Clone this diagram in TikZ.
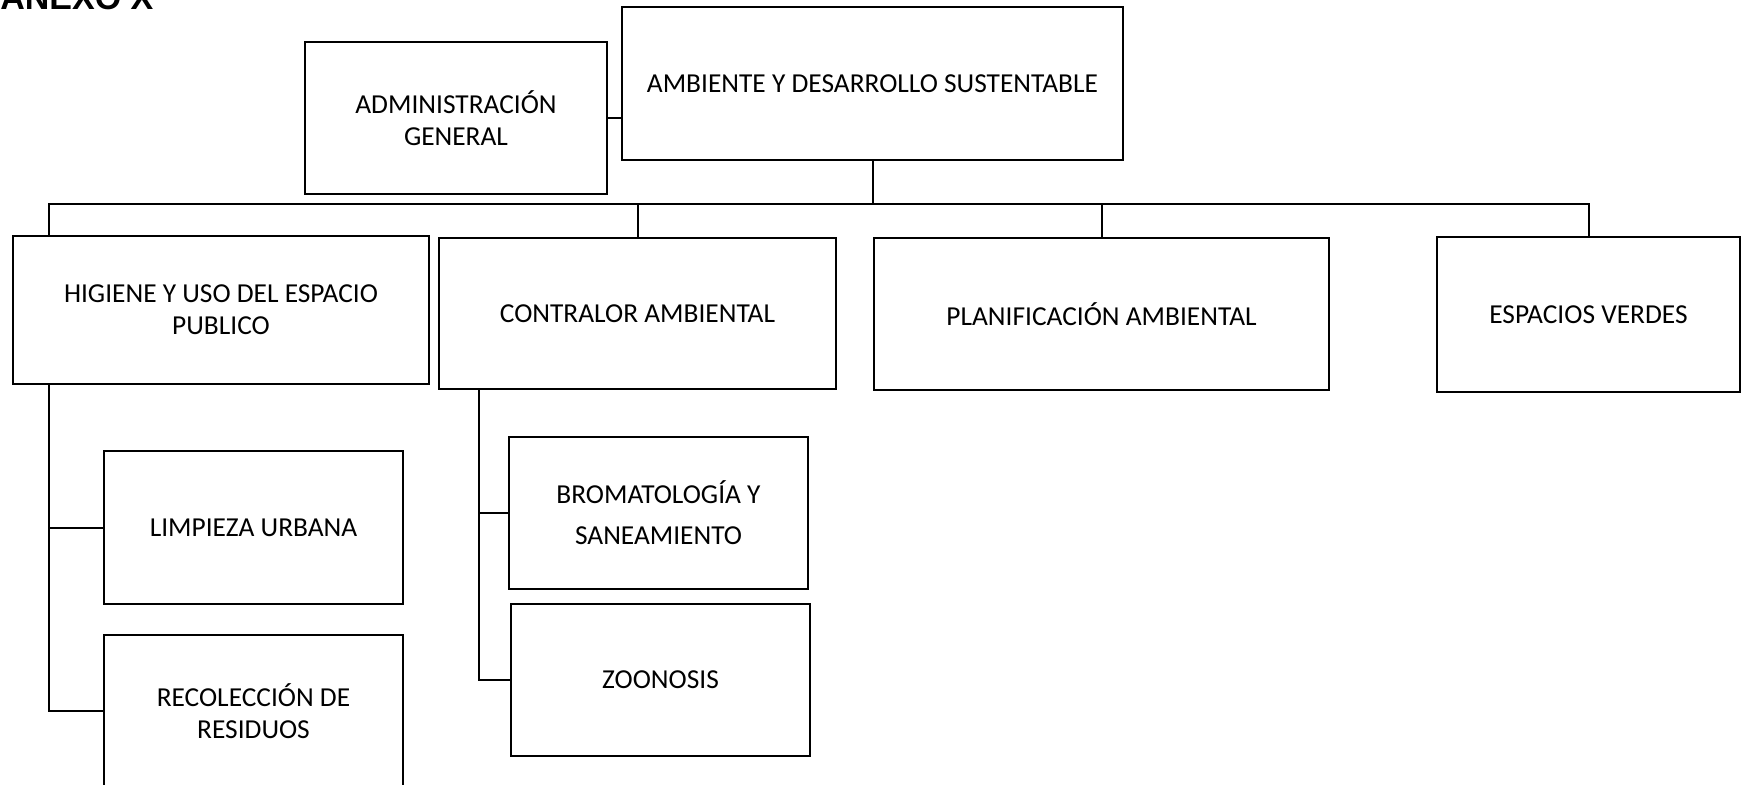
\documentclass[tikz,border=0pt]{standalone}
\usepackage{fontspec}
\setmainfont{Carlito}
\newfontfamily\titlefont{Liberation Sans}
\begin{document}
\begin{tikzpicture}[x=0.5pt,y=-0.5pt,
  orgbox/.style={draw=black, line width=1.2pt, inner sep=0pt, outer sep=0pt,
    align=center, font=\fontsize{13.7}{16}\selectfont},
  conn/.style={draw=black, line width=1pt}]
\useasboundingbox (0,0) rectangle (1747,784);
% partially visible title at the very top
\node[anchor=base west, inner sep=0pt, font=\titlefont\fontsize{17}{17}\bfseries\selectfont] (title) at (0,9) {ANEXO X};
% boxes
\node[orgbox, minimum width=302*0.5pt, minimum height=152*0.5pt] (adm) at (456,118) {ADMINISTRACIÓN\\GENERAL};
\node[orgbox, minimum width=501*0.5pt, minimum height=153*0.5pt] (amb) at (872.5,83.5) {AMBIENTE Y DESARROLLO SUSTENTABLE};
\node[orgbox, minimum width=416*0.5pt, minimum height=148*0.5pt] (hig) at (221,310) {HIGIENE Y USO DEL ESPACIO\\PUBLICO};
\node[orgbox, minimum width=397*0.5pt, minimum height=151*0.5pt] (con) at (637.5,313.5) {CONTRALOR AMBIENTAL};
\node[orgbox, minimum width=455*0.5pt, minimum height=152*0.5pt] (pla) at (1101.5,314) {PLANIFICACIÓN AMBIENTAL};
\node[orgbox, minimum width=303*0.5pt, minimum height=155*0.5pt] (esp) at (1588.5,314.5) {ESPACIOS VERDES};
\node[orgbox, minimum width=299*0.5pt, minimum height=153*0.5pt] (lim) at (253.5,527.5) {LIMPIEZA URBANA};
\node[orgbox, minimum width=299*0.5pt, minimum height=152*0.5pt] (rec) at (253.5,711) {RECOLECCIÓN DE\\RESIDUOS};
\node[orgbox, minimum width=299*0.5pt, minimum height=152*0.5pt] (bro) at (658.5,513) {BROMATOLOGÍA Y\\[4.5pt]SANEAMIENTO};
\node[orgbox, minimum width=299*0.5pt, minimum height=152*0.5pt] (zoo) at (660.5,680) {ZOONOSIS};
% helper coordinates
\coordinate (hd) at (49,204);
\coordinate (ct) at (479,400);
% connectors
\draw[conn] (adm.east) -- (adm.east -| amb.west);
\draw[conn] (amb.south) -- (amb.south |- hd);
\draw[conn] (hd |- hig.north) -- (hd) -- (hd -| esp.north) -- (esp.north);
\draw[conn] (con.north) -- (con.north |- hd);
\draw[conn] (pla.north) -- (pla.north |- hd);
\draw[conn] (hd |- hig.south) -- (hd |- rec.west) -- (rec.west);
\draw[conn] (hd |- lim.west) -- (lim.west);
\draw[conn] (ct |- con.south) -- (ct |- zoo.west) -- (zoo.west);
\draw[conn] (ct |- bro.west) -- (bro.west);
\end{tikzpicture}
\end{document}
